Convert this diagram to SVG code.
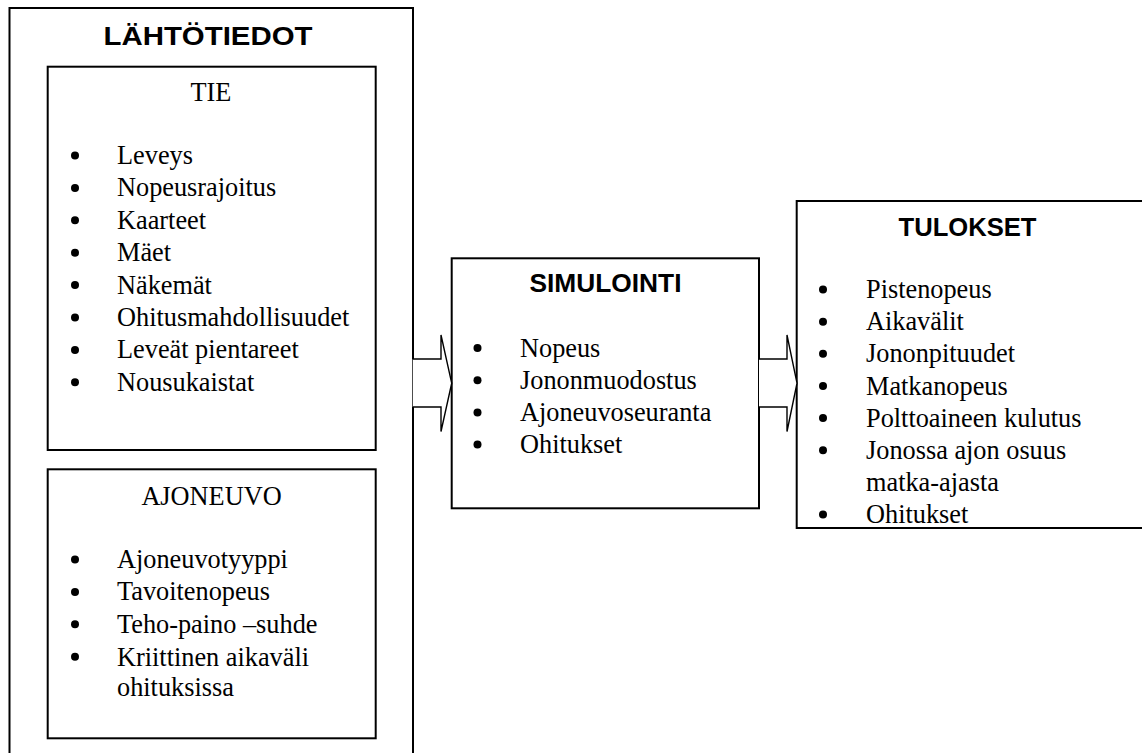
<svg xmlns="http://www.w3.org/2000/svg" width="1142" height="753" viewBox="0 0 1142 753">
<style>
.box{fill:#fff;stroke:#000;stroke-width:2}
.arr{fill:#fff;stroke:#000;stroke-width:1.4;stroke-linejoin:miter}
.h{font-family:"Liberation Sans",Arial,sans-serif;font-weight:bold;font-size:25px;text-anchor:middle;fill:#000}
.hs{font-family:"Liberation Serif","Times New Roman",serif;font-size:26.3px;text-anchor:middle;fill:#000}
.t{font-family:"Liberation Serif","Times New Roman",serif;font-size:26.3px;fill:#000}
.b{fill:#000}
</style>
<rect width="1142" height="753" fill="#fff"/>
<g id="lahtotiedot">
<rect class="box" x="9.5" y="8" width="403.5" height="770"/>
<text class="h" x="208" y="45" textLength="209" lengthAdjust="spacingAndGlyphs">LÄHTÖTIEDOT</text>
</g>
<g id="tie">
<rect class="box" x="47.7" y="66.7" width="328" height="383.3"/>
<text class="hs" x="211" y="101">TIE</text>
<g class="b">
<circle cx="75" cy="155.5" r="4"/><circle cx="75" cy="187.9" r="4"/><circle cx="75" cy="220.3" r="4"/><circle cx="75" cy="252.7" r="4"/>
<circle cx="75" cy="285.1" r="4"/><circle cx="75" cy="317.5" r="4"/><circle cx="75" cy="349.9" r="4"/><circle cx="75" cy="382.3" r="4"/>
</g>
<text class="t" x="117" y="164">Leveys</text>
<text class="t" x="117" y="196.4">Nopeusrajoitus</text>
<text class="t" x="117" y="228.8">Kaarteet</text>
<text class="t" x="117" y="261.2">Mäet</text>
<text class="t" x="117" y="293.6">Näkemät</text>
<text class="t" x="117" y="326">Ohitusmahdollisuudet</text>
<text class="t" x="117" y="358.4">Leveät pientareet</text>
<text class="t" x="117" y="390.8">Nousukaistat</text>
</g>
<g id="ajoneuvo">
<rect class="box" x="47.7" y="469.3" width="328" height="269"/>
<text class="hs" x="211.5" y="505">AJONEUVO</text>
<g class="b">
<circle cx="75" cy="559.5" r="4"/><circle cx="75" cy="591.9" r="4"/><circle cx="75" cy="624.3" r="4"/><circle cx="75" cy="656.7" r="4"/>
</g>
<text class="t" x="117" y="568">Ajoneuvotyyppi</text>
<text class="t" x="117" y="600.4">Tavoitenopeus</text>
<text class="t" x="117" y="632.8">Teho-paino –suhde</text>
<text class="t" x="117" y="665.5">Kriittinen aikaväli</text>
<text class="t" x="117" y="695.5">ohituksissa</text>
</g>
<g id="simulointi">
<rect class="box" x="451.7" y="258.3" width="307.3" height="250"/>
<text class="h" x="605.5" y="292.3" textLength="152" lengthAdjust="spacingAndGlyphs">SIMULOINTI</text>
<g class="b">
<circle cx="477.5" cy="348" r="4"/><circle cx="477.5" cy="380.2" r="4"/><circle cx="477.5" cy="412.4" r="4"/><circle cx="477.5" cy="444.6" r="4"/>
</g>
<text class="t" x="520" y="356.5">Nopeus</text>
<text class="t" x="520" y="388.7">Jononmuodostus</text>
<text class="t" x="520" y="420.9">Ajoneuvoseuranta</text>
<text class="t" x="520" y="453.1">Ohitukset</text>
</g>
<g id="tulokset">
<rect class="box" x="796.7" y="201" width="360" height="327"/>
<text class="h" x="967.5" y="235.7" textLength="138" lengthAdjust="spacingAndGlyphs">TULOKSET</text>
<g class="b">
<circle cx="823" cy="289.5" r="4"/><circle cx="823" cy="321.7" r="4"/><circle cx="823" cy="353.8" r="4"/><circle cx="823" cy="386" r="4"/>
<circle cx="823" cy="418.1" r="4"/><circle cx="823" cy="450.3" r="4"/><circle cx="823" cy="514.6" r="4"/>
</g>
<text class="t" x="866" y="298">Pistenopeus</text>
<text class="t" x="866" y="330.2">Aikavälit</text>
<text class="t" x="866" y="362.3">Jononpituudet</text>
<text class="t" x="866" y="394.5">Matkanopeus</text>
<text class="t" x="866" y="426.6">Polttoaineen kulutus</text>
<text class="t" x="866" y="458.8">Jonossa ajon osuus</text>
<text class="t" x="866" y="490.9">matka-ajasta</text>
<text class="t" x="866" y="523">Ohitukset</text>
</g>
<g id="connectors">
<path class="arr" d="M412.7,359 H441 V335 L451.7,383.2 L441,431.5 V407 H412.7"/>
<path class="arr" d="M759,359 H787 V335 L797,383.2 L787,431.5 V407 H759"/>
</g>
</svg>
